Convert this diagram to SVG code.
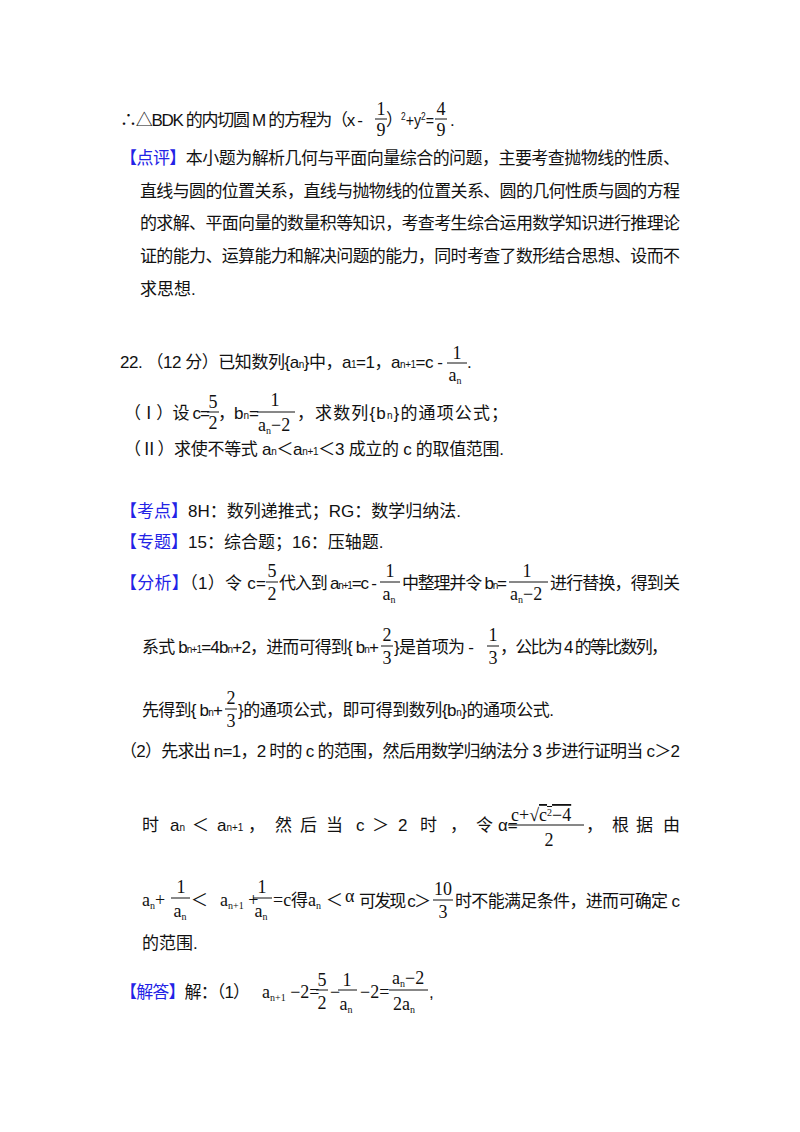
<svg xmlns="http://www.w3.org/2000/svg" width="800" height="1132" viewBox="0 0 800 1132">
<style>
text{font-family:"Liberation Sans","Noto Sans CJK SC",sans-serif;font-size:17px;fill:#111}
.b{fill:#2323e6}
.m{font-family:"Liberation Serif","Noto Sans CJK SC",serif;font-size:18px}
.s{font-size:10px}
.c{text-anchor:middle}
line{stroke:#111;stroke-width:1}
</style>
<rect width="800" height="1132" fill="#fff"/>
<g id="line1">
<text x="120" y="126" textLength="243" lengthAdjust="spacing">∴△BDK 的内切圆 M 的方程为（x -</text>
<text class="m c" x="381" y="115">1</text><line x1="375" y1="119" x2="387" y2="119"/><text class="m c" x="381" y="136">9</text>
<text x="386" y="126">）</text>
<text x="401" y="126" textLength="33" lengthAdjust="spacingAndGlyphs"><tspan class="s" dy="-6">2</tspan><tspan dy="6">+y</tspan><tspan class="s" dy="-6">2</tspan><tspan dy="6">=</tspan></text>
<text class="m c" x="441" y="115">4</text><line x1="435" y1="119" x2="447" y2="119"/><text class="m c" x="441" y="136">9</text>
<text x="450" y="126">.</text>
</g>
<g id="dianping">
<text x="120" y="164" textLength="560" lengthAdjust="spacing"><tspan class="b">【点评】</tspan>本小题为解析几何与平面向量综合的问题，主要考查抛物线的性质、</text>
<text x="140" y="197" textLength="540" lengthAdjust="spacing">直线与圆的位置关系，直线与抛物线的位置关系、圆的几何性质与圆的方程</text>
<text x="140" y="229" textLength="540" lengthAdjust="spacing">的求解、平面向量的数量积等知识，考查考生综合运用数学知识进行推理论</text>
<text x="140" y="262" textLength="540" lengthAdjust="spacing">证的能力、运算能力和解决问题的能力，同时考查了数形结合思想、设而不</text>
<text x="140" y="295">求思想.</text>
</g>
<g id="q22">
<text x="120" y="368" textLength="323" lengthAdjust="spacing">22. （12 分）已知数列{a<tspan class="s">n</tspan>}中，a<tspan class="s">1</tspan>=1，a<tspan class="s">n+1</tspan>=c -</text>
<text class="m c" x="457" y="359">1</text><line x1="447" y1="363" x2="467" y2="363"/><text class="m c" x="455" y="381">a<tspan class="s" dy="3">n</tspan></text>
<text x="467" y="368">.</text>
<text x="124" y="419" textLength="86" lengthAdjust="spacing">（Ⅰ）设 c=</text>
<text class="m c" x="213" y="408">5</text><line x1="207" y1="412" x2="219" y2="412"/><text class="m c" x="213" y="429">2</text>
<text x="218" y="419">，</text>
<text x="234" y="419">b<tspan class="s">n</tspan>=</text>
<text class="m c" x="275" y="406">1</text><line x1="257" y1="412" x2="295" y2="412"/><text class="m" x="258" y="431">a<tspan class="s" dy="3">n</tspan><tspan dy="-3">−2</tspan></text>
<text x="297" y="419" textLength="211" lengthAdjust="spacing">，求数列{b<tspan class="s">n</tspan>}的通项公式；</text>
<text x="124" y="455" textLength="380" lengthAdjust="spacing">（Ⅱ）求使不等式 a<tspan class="s">n</tspan>＜a<tspan class="s">n+1</tspan>＜3 成立的 c 的取值范围.</text>
</g>
<g id="kaodian">
<text x="120" y="517"><tspan class="b">【考点】</tspan>8H：数列递推式；RG：数学归纳法.</text>
<text x="120" y="548"><tspan class="b">【专题】</tspan>15：综合题；16：压轴题.</text>
</g>
<g id="fenxi">
<text x="120" y="589" textLength="146" lengthAdjust="spacing"><tspan class="b">【分析】</tspan>（1）令 c=</text>
<text class="m c" x="272" y="577">5</text><line x1="266" y1="582" x2="278" y2="582"/><text class="m c" x="272" y="600">2</text>
<text x="279" y="589" textLength="98" lengthAdjust="spacing">代入到 a<tspan class="s">n+1</tspan>=c -</text>
<text class="m c" x="390" y="577">1</text><line x1="380" y1="582" x2="400" y2="582"/><text class="m c" x="389" y="600">a<tspan class="s" dy="3">n</tspan></text>
<text x="402" y="589" textLength="105" lengthAdjust="spacing">中整理并令 b<tspan class="s">n</tspan>=</text>
<text class="m c" x="527" y="577">1</text><line x1="509" y1="582" x2="548" y2="582"/><text class="m" x="510" y="600">a<tspan class="s" dy="3">n</tspan><tspan dy="-3">−2</tspan></text>
<text x="550" y="589" textLength="130" lengthAdjust="spacing">进行替换，得到关</text>
<text x="142" y="653" textLength="237" lengthAdjust="spacing">系式 b<tspan class="s">n+1</tspan>=4b<tspan class="s">n</tspan>+2，进而可得到{ b<tspan class="s">n</tspan>+</text>
<text class="m c" x="387" y="641">2</text><line x1="381" y1="646" x2="393" y2="646"/><text class="m c" x="387" y="664">3</text>
<text x="394" y="653" textLength="80" lengthAdjust="spacing">}是首项为 -</text>
<text class="m c" x="493" y="641">1</text><line x1="487" y1="646" x2="499" y2="646"/><text class="m c" x="493" y="664">3</text>
<text x="500" y="653" textLength="168" lengthAdjust="spacing">，公比为 4 的等比数列，</text>
<text x="142" y="716" textLength="81" lengthAdjust="spacing">先得到{ b<tspan class="s">n</tspan>+</text>
<text class="m c" x="231" y="704">2</text><line x1="225" y1="709" x2="237" y2="709"/><text class="m c" x="231" y="727">3</text>
<text x="238" y="716" textLength="316" lengthAdjust="spacing">}的通项公式，即可得到数列{b<tspan class="s">n</tspan>}的通项公式.</text>
<text x="120" y="757" textLength="560" lengthAdjust="spacing">（2）先求出 n=1，2 时的 c 的范围，然后用数学归纳法分 3 步进行证明当 c＞2</text>
<text x="142" y="831">时</text>
<text x="170" y="831">a<tspan class="s">n</tspan></text>
<text x="192" y="831">＜</text>
<text x="217" y="831">a<tspan class="s">n+1</tspan></text>
<text x="248" y="831">，</text>
<text x="275" y="831">然</text><text x="300" y="831">后</text><text x="326" y="831">当</text>
<text x="356" y="831">c</text><text x="372" y="831">＞</text><text x="398" y="831">2</text>
<text x="420" y="831">时</text><text x="450" y="831">，</text><text x="476" y="831">令</text>
<text x="498" y="831">α=</text>
<text class="m" x="511" y="821" font-size="15">c+√<tspan text-decoration="overline">c<tspan class="s" dy="-5">2</tspan><tspan dy="5">−4</tspan></tspan></text>
<line x1="508" y1="825" x2="584" y2="825"/>
<text class="m c" x="549" y="846">2</text>
<text x="586" y="831">，</text>
<text x="612" y="831">根</text><text x="636" y="831">据</text><text x="663" y="831">由</text>
<text class="m" x="142" y="906">a<tspan class="s" dy="3">n</tspan><tspan dy="-3">+</tspan></text>
<text class="m c" x="181" y="893">1</text><line x1="171" y1="898" x2="190" y2="898"/><text class="m c" x="180" y="917">a<tspan class="s" dy="3">n</tspan></text>
<text x="191" y="906">＜</text>
<text class="m" x="220" y="906">a<tspan class="s" dy="3">n+1</tspan><tspan dy="-3"> +</tspan></text>
<text class="m c" x="262" y="893">1</text><line x1="253" y1="898" x2="272" y2="898"/><text class="m c" x="261" y="917">a<tspan class="s" dy="3">n</tspan></text>
<text class="m" x="273" y="906">=c</text><text x="291" y="906">得</text>
<text class="m" x="308" y="906">a<tspan class="s" dy="3">n</tspan></text><text x="326" y="906">＜</text><text class="m" x="345" y="902">α</text>
<text x="359" y="907" textLength="72" lengthAdjust="spacing">可发现 c＞</text>
<text class="m c" x="443" y="895">10</text><line x1="433" y1="900" x2="453" y2="900"/><text class="m c" x="443" y="918">3</text>
<text x="455" y="907" textLength="225" lengthAdjust="spacing">时不能满足条件，进而可确定 c</text>
<text x="142" y="949">的范围.</text>
</g>
<g id="jieda">
<text x="120" y="998" textLength="130" lengthAdjust="spacing"><tspan class="b">【解答】</tspan>解：（1）</text>
<text class="m" x="262" y="998">a<tspan class="s" dy="3">n+1</tspan><tspan dy="-3"> −2=</tspan></text>
<text class="m c" x="322" y="986">5</text><line x1="316" y1="990" x2="328" y2="990"/><text class="m c" x="322" y="1009">2</text>
<text class="m" x="330" y="998">−</text>
<text class="m c" x="347" y="986">1</text><line x1="338" y1="990" x2="357" y2="990"/><text class="m c" x="346" y="1010">a<tspan class="s" dy="3">n</tspan></text>
<text class="m" x="360" y="998">−2=</text>
<text class="m" x="392" y="984">a<tspan class="s" dy="3">n</tspan><tspan dy="-3">−2</tspan></text><line x1="389" y1="990" x2="428" y2="990"/>
<text class="m" x="393" y="1010">2a<tspan class="s" dy="3">n</tspan></text>
<text x="429" y="998">,</text>
</g>
</svg>
